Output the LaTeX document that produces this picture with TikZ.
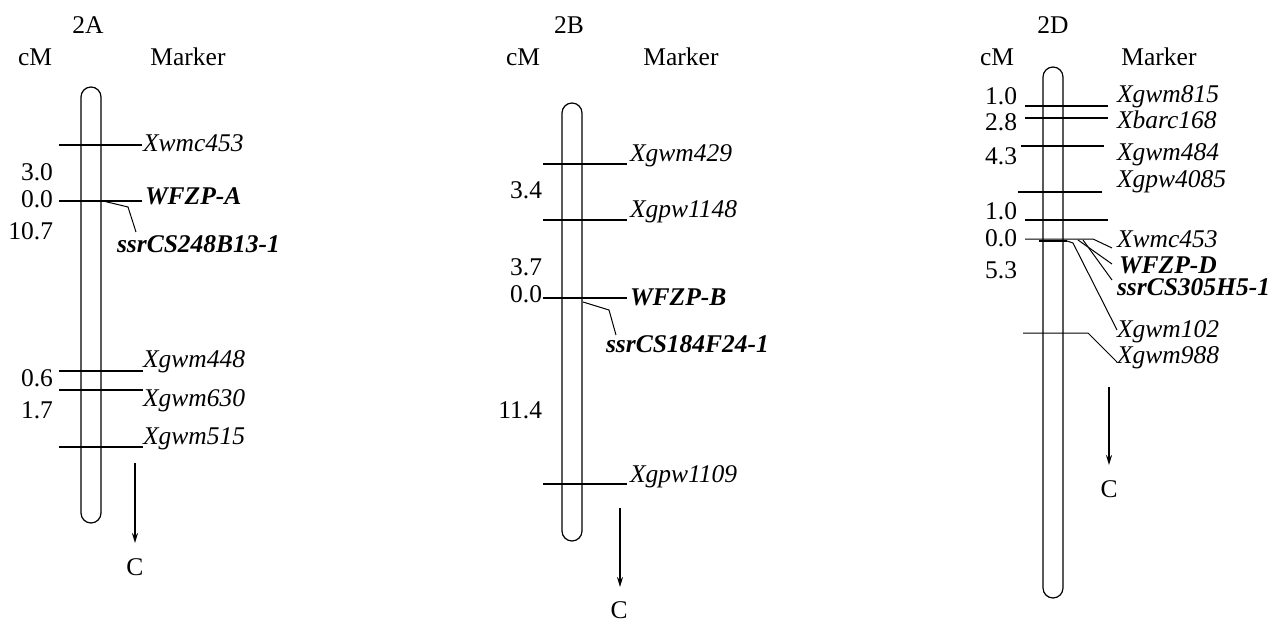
\documentclass[tikz,border=0pt]{standalone}
\usepackage{fontspec}
\setmainfont{Liberation Serif}
\usetikzlibrary{arrows.meta}
\newcommand\labelsize{\fontsize{25.5}{30}\selectfont}
\begin{document}
\begin{tikzpicture}[x=1pt,y=-1pt,
  every node/.style={inner sep=0pt,outer sep=0pt,font=\labelsize},
  chrom/.style={draw,line width=1.2pt,rounded corners=10pt,minimum width=20pt},
  mline/.style={line width=1.8pt},
  leader/.style={line width=1pt},
  mklabel/.style={anchor=base west,font=\labelsize\itshape},
  mkbold/.style={anchor=base west,font=\labelsize\bfseries\itshape},
  dist/.style={anchor=base east},
  heading/.style={anchor=base},
  cen/.style={-{Stealth[length=10pt,width=6pt]},line width=1.8pt}]
\useasboundingbox (0,0) rectangle (1269,621);

% ---------------- linkage group 2A ----------------
\node[heading] (tA) at (88,33) {2A};
\node[heading] (cmA) at (35,65) {cM};
\node[heading] (mkA) at (188,65) {Marker};
\node[chrom,minimum height=436pt] (chrA) at (91,305) {};

\coordinate (a1l) at (59,145); \coordinate (a1r) at (142,145);
\coordinate (a2l) at (59,201); \coordinate (a2r) at (142,201);
\coordinate (a4l) at (59,371); \coordinate (a4r) at (143,371);
\coordinate (a5l) at (59,390); \coordinate (a5r) at (143,390);
\coordinate (a6l) at (59,447); \coordinate (a6r) at (143,447);
\foreach \m in {1,2,4,5,6} \draw[mline] (a\m l) -- (a\m r);

\node[mklabel]  (a1) at (143,151) {Xwmc453};
\node[mkbold] (a2) at (145,204) {WFZP-A};
\node[mkbold] (a3) at (117,252) {ssrCS248B13-1};
\node[mklabel]  (a4) at (143,367) {Xgwm448};
\node[mklabel]  (a5) at (143,406) {Xgwm630};
\node[mklabel]  (a6) at (143,444) {Xgwm515};

\coordinate (a3s) at (103,201); \coordinate (a3k) at (128,207); \coordinate (a3e) at (136,232);
\draw[leader] (a3s) -- (a3k) -- (a3e);

\node[dist] (ca1) at (53,180) {3.0};
\node[dist] (ca2) at (53,207) {0.0};
\node[dist] (ca3) at (53,239) {10.7};
\node[dist] (ca4) at (53,386) {0.6};
\node[dist] (ca5) at (53,418) {1.7};

\coordinate (aArr) at (135,463); \coordinate (aTip) at (135,543);
\node[heading] (aC) at (135,575) {C};
\draw[cen] (aArr) -- (aTip);

% ---------------- linkage group 2B ----------------
\node[heading] (tB) at (569,33) {2B};
\node[heading] (cmB) at (523,65) {cM};
\node[heading] (mkB) at (681,65) {Marker};
\node[chrom,minimum height=438pt] (chrB) at (572,322) {};

\coordinate (b1l) at (543,164); \coordinate (b1r) at (627,164);
\coordinate (b2l) at (543,220); \coordinate (b2r) at (627,220);
\coordinate (b3l) at (543,298); \coordinate (b3r) at (627,298);
\coordinate (b5l) at (543,484); \coordinate (b5r) at (627,484);
\foreach \m in {1,2,3,5} \draw[mline] (b\m l) -- (b\m r);

\node[mklabel]  (b1) at (630,161) {Xgwm429};
\node[mklabel]  (b2) at (630,217) {Xgpw1148};
\node[mkbold] (b3) at (630,305) {WFZP-B};
\node[mkbold] (b4) at (606,352) {ssrCS184F24-1};
\node[mklabel]  (b5) at (630,482) {Xgpw1109};

\coordinate (b4s) at (583,302); \coordinate (b4k) at (609,310); \coordinate (b4e) at (616,335);
\draw[leader] (b4s) -- (b4k) -- (b4e);

\node[dist] (cb1) at (542,198) {3.4};
\node[dist] (cb2) at (542,275) {3.7};
\node[dist] (cb3) at (542,302) {0.0};
\node[dist] (cb4) at (542,418) {11.4};

\coordinate (bArr) at (620,508); \coordinate (bTip) at (620,587);
\node[heading] (bC) at (619,618) {C};
\draw[cen] (bArr) -- (bTip);

% ---------------- linkage group 2D ----------------
\node[heading] (tD) at (1053,33) {2D};
\node[heading] (cmD) at (997,65) {cM};
\node[heading] (mkD) at (1159,65) {Marker};
\node[chrom,minimum height=531pt] (chrD) at (1053,332.5) {};

\coordinate (d1l) at (1025,106); \coordinate (d1r) at (1108,106);
\coordinate (d2l) at (1025,118); \coordinate (d2r) at (1108,118);
\coordinate (d3l) at (1021,146); \coordinate (d3r) at (1104,146);
\coordinate (d4l) at (1018,192); \coordinate (d4r) at (1102,192);
\coordinate (d0l) at (1025,220); \coordinate (d0r) at (1108,220);
\foreach \m in {1,2,3,4,0} \draw[mline] (d\m l) -- (d\m r);

\node[mklabel]  (d1) at (1117,102) {Xgwm815};
\node[mklabel]  (d2) at (1117,128) {Xbarc168};
\node[mklabel]  (d3) at (1117,160) {Xgwm484};
\node[mklabel]  (d4) at (1117,187) {Xgpw4085};
\node[mklabel]  (d5) at (1117,247) {Xwmc453};
\node[mkbold] (d6) at (1119,273) {WFZP-D};
\node[mkbold] (d7) at (1117,295) {ssrCS305H5-1};
\node[mklabel]  (d8) at (1117,337) {Xgwm102};
\node[mklabel]  (d9) at (1117,363) {Xgwm988};

% fan of leaders for the co-located markers
\coordinate (d5s) at (1025,239); \coordinate (d5k) at (1093,239); \coordinate (d5e) at (1112,248);
\coordinate (d6s) at (1078,240); \coordinate (d6e) at (1112,264);
\coordinate (d7s) at (1083,240); \coordinate (d7e) at (1112,280);
\coordinate (d8s) at (1039,241); \coordinate (d8k) at (1067,241);
\coordinate (d8j) at (1073,243); \coordinate (d8e) at (1117,330);
\coordinate (d9s) at (1023,333); \coordinate (d9k) at (1088,333); \coordinate (d9e) at (1117,362);
\draw[leader] (d5s) -- (d5k) -- (d5e);
\draw[leader] (d6s) -- (d6e);
\draw[leader] (d7s) -- (d7e);
\draw[leader] (d8s) -- (d8k) -- (d8j) -- (d8e);
\draw[line width=1.6pt] (d8s) -- (d8k);
\draw[leader] (d9s) -- (d9k) -- (d9e);

\node[dist] (cd1) at (1017,104) {1.0};
\node[dist] (cd2) at (1017,130) {2.8};
\node[dist] (cd3) at (1017,164) {4.3};
\node[dist] (cd4) at (1017,219) {1.0};
\node[dist] (cd5) at (1017,246) {0.0};
\node[dist] (cd6) at (1017,278) {5.3};

\coordinate (dArr) at (1109,387); \coordinate (dTip) at (1109,465);
\node[heading] (dC) at (1109,497) {C};
\draw[cen] (dArr) -- (dTip);
\end{tikzpicture}
\end{document}
